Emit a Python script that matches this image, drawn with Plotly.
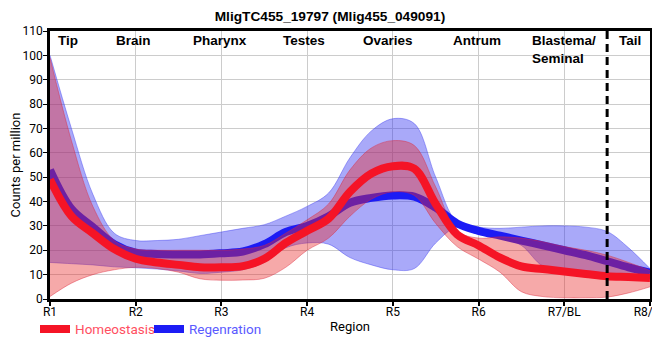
import plotly.graph_objects as go

# ---- data ----
x_pos = [1, 1.25, 1.5, 1.75, 2, 2.25, 2.5, 2.75, 3, 3.25, 3.5, 3.75, 4, 4.25, 4.5,
         4.75, 5, 5.25, 5.5, 5.75, 6, 6.25, 6.5, 6.75, 7, 7.25, 7.5, 7.75, 8]
tick_vals = [1, 2, 3, 4, 5, 6, 7, 8]
tick_labels = ["R1", "R2", "R3", "R4", "R5", "R6", "R7/BL", "R8/TL"]

homeo_mean = [49, 34, 27, 20.5, 16.5, 15, 14, 13, 13, 13.5, 16.5, 23, 28, 33, 44,
              51.5, 54.5, 53.5, 39, 26.5, 22, 17, 13.4, 12.3, 11.3, 10.3, 9.3, 9, 8.6]
homeo_upper = [99, 65, 38, 24, 20.5, 20, 20, 20, 20, 20.5, 22, 27, 32.5, 39, 53,
               62, 65, 63, 46, 28, 25, 25.5, 25, 23.5, 21.5, 20, 18, 15, 11.7]
homeo_lower = [1, 6.5, 10, 12, 13, 12.5, 11, 8.3, 7.7, 7.8, 8.5, 13, 20, 25, 34,
               41, 44, 42.5, 31, 21.5, 16.4, 11, 3, 1, 0.5, 0.5, 0.8, 2.5, 5]

regen_mean = [53, 37, 29.5, 22.5, 19, 18.5, 18.3, 18.3, 18.8, 19.5, 22.5, 27.5, 30, 34, 39.5,
              41.5, 42.5, 42, 37.5, 31, 28, 26, 24, 22, 20, 18, 15.5, 13, 10.8]
regen_upper = [100, 70, 43, 27, 24, 24, 24.5, 26, 27.5, 29, 30.5, 34, 38, 43.5, 58,
               69, 74, 72, 50, 31.5, 29.5, 29, 29.5, 30, 30, 29.5, 27.7, 21, 12.5]
regen_lower = [15, 14.5, 14, 13.2, 12.8, 12.3, 11.5, 10.5, 11, 12, 15, 21, 23, 22.5, 17,
               14, 12, 12.5, 23, 29.5, 26.5, 25.5, 22, 13.5, 12, 11.2, 10.6, 10, 9.2]

region_names = ["Tip", "Brain", "Pharynx", "Testes", "Ovaries", "Antrum", "Blastema/<br>Seminal", "Tail"]
region_x = [1.21, 1.97, 2.98, 3.96, 4.94, 5.98, 7.0, 7.77]
tail_boundary = 7.5

# ---- styling ----
RED_LINE = "rgb(245,20,38)"
BLUE_LINE = "rgb(28,28,245)"
RED_FILL = "rgba(232,40,40,0.40)"
BLUE_FILL = "rgba(50,50,240,0.42)"
RED_EDGE = "rgba(220,40,60,0.55)"
BLUE_EDGE = "rgba(60,60,240,0.55)"

fig = go.Figure()

def band(upper, lower, fill, edge):
    fig.add_trace(go.Scatter(x=x_pos, y=upper, mode="lines",
                             line=dict(color=edge, width=0.8, shape="spline", smoothing=1.0),
                             showlegend=False, hoverinfo="skip"))
    fig.add_trace(go.Scatter(x=x_pos, y=lower, mode="lines", fill="tonexty", fillcolor=fill,
                             line=dict(color=edge, width=0.8, shape="spline", smoothing=1.0),
                             showlegend=False, hoverinfo="skip"))

band(regen_upper, regen_lower, BLUE_FILL, BLUE_EDGE)
fig.add_trace(go.Scatter(x=x_pos, y=regen_mean, mode="lines",
                         line=dict(color=BLUE_LINE, width=8, shape="spline", smoothing=1.0),
                         name="<span style='color:#5a5aff'>Regenration</span>", legendrank=2))
band(homeo_upper, homeo_lower, RED_FILL, RED_EDGE)
fig.add_trace(go.Scatter(x=x_pos, y=homeo_mean, mode="lines",
                         line=dict(color=RED_LINE, width=8, shape="spline", smoothing=1.0),
                         name="<span style='color:#ff4f62'>Homeostasis</span>", legendrank=1))

# tail boundary dashed line
fig.add_shape(type="line", x0=tail_boundary, x1=tail_boundary, y0=0, y1=110,
              xref="x", yref="y", line=dict(color="black", width=3, dash="8px,5px"))

for name, xr in zip(region_names, region_x):
    fig.add_annotation(x=xr, y=1.0, xref="x", yref="paper", text="<b>" + name + "</b>",
                       showarrow=False, yanchor="top", yshift=0, align="left",
                       font=dict(family="Liberation Sans, Arial", size=13.5, color="black"))

fig.update_layout(
    width=668, height=360,
    margin=dict(l=42, r=26, t=23, b=69, autoexpand=False),
    paper_bgcolor="white", plot_bgcolor="white",
    title=dict(text="<b>MligTC455_19797 (Mlig455_049091)</b>", x=0.4820, xanchor="center",
               y=0.99, yanchor="top", automargin=False,
               font=dict(family="Liberation Sans, Arial", size=13.7, color="black")),
    showlegend=True,
    legend=dict(orientation="h", x=-0.025, xanchor="left", y=-0.055, yanchor="top",
                font=dict(family="Roboto, Arial", size=13.5), itemwidth=30,
                entrywidth=69, entrywidthmode="pixels",
                bgcolor="rgba(0,0,0,0)", traceorder="normal"),
    font=dict(family="Roboto, Arial", size=12, color="black"),
)

fig.update_xaxes(range=[1, 8], tickvals=tick_vals, ticktext=tick_labels, automargin=False,
                 showgrid=True, gridcolor="#cccccc", gridwidth=1,
                 showline=True, linecolor="black", linewidth=2.5, mirror=True,
                 ticks="outside", ticklen=4, tickcolor="black", tickwidth=2,
                 ticklabelstandoff=-4, ticklabeloverflow="allow",
                 tickfont=dict(family="Roboto, Arial", size=12, color="black"),
                 title=dict(text="Region", standoff=4,
                            font=dict(family="Roboto, Arial", size=13, color="black")),
                 zeroline=False)
fig.update_yaxes(range=[0, 110], dtick=10, automargin=False,
                 showgrid=True, gridcolor="#cccccc", gridwidth=1,
                 showline=True, linecolor="black", linewidth=2.5, mirror=True,
                 ticks="outside", ticklen=4, tickcolor="black", tickwidth=1,
                 ticklabelstandoff=-2,
                 tickfont=dict(family="Roboto, Arial", size=12, color="black"),
                 title=dict(text="Counts per million", standoff=0,
                            font=dict(family="Roboto, Arial", size=13, color="black")),
                 zeroline=False)

fig.write_html("out.html")
